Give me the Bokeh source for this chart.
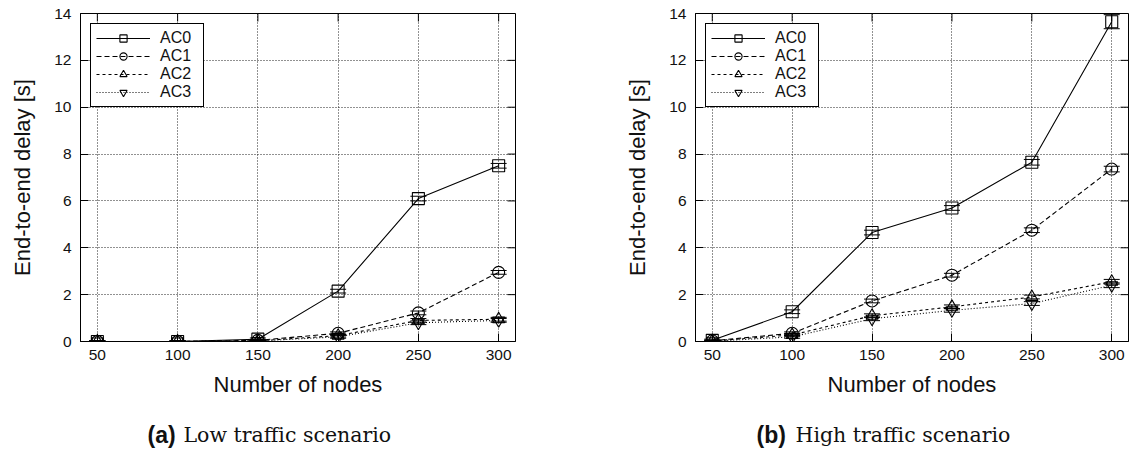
import math
from bokeh.plotting import figure
from bokeh.layouts import row, column
from bokeh.models import (ColumnDataSource, Whisker, TeeHead, FixedTicker, Range1d)
from bokeh.embed import file_html
from bokeh.resources import INLINE
from bokeh.core.properties import value

# ---------------- data ----------------
nodes = [50, 100, 150, 200, 250, 300]
series_names = ["AC0", "AC1", "AC2", "AC3"]

low_ac0 = [0.0, 0.0, 0.10, 2.15, 6.10, 7.50]
low_ac1 = [0.0, 0.0, 0.05, 0.35, 1.22, 2.95]
low_ac2 = [0.0, 0.0, 0.03, 0.25, 0.90, 0.95]
low_ac3 = [0.0, 0.0, 0.02, 0.20, 0.80, 0.90]
low_err_ac0 = [0.03, 0.03, 0.05, 0.08, 0.10, 0.10]
low_err_ac1 = [0.03, 0.03, 0.03, 0.06, 0.08, 0.08]
low_err_ac2 = [0.03, 0.03, 0.03, 0.06, 0.08, 0.08]
low_err_ac3 = [0.03, 0.03, 0.03, 0.06, 0.08, 0.08]

high_ac0 = [0.05, 1.27, 4.65, 5.70, 7.65, 13.65]
high_ac1 = [0.03, 0.35, 1.73, 2.83, 4.75, 7.36]
high_ac2 = [0.02, 0.28, 1.10, 1.48, 1.90, 2.55]
high_ac3 = [0.01, 0.20, 0.97, 1.33, 1.62, 2.40]
high_err_ac0 = [0.05, 0.08, 0.10, 0.10, 0.12, 0.30]
high_err_ac1 = [0.03, 0.06, 0.08, 0.08, 0.10, 0.12]
high_err_ac2 = [0.03, 0.06, 0.08, 0.08, 0.08, 0.10]
high_err_ac3 = [0.03, 0.06, 0.08, 0.08, 0.08, 0.10]

x_ticks = [50, 100, 150, 200, 250, 300]
y_ticks = [0, 2, 4, 6, 8, 10, 12, 14]

x_label = "Number of nodes"
y_label = "End-to-end delay [s]"
caption_a = ("(a)", "Low traffic scenario")
caption_b = ("(b)", "High traffic scenario")

# ---------------- styles ----------------
markers = ["square", "circle", "triangle", "inverted_triangle"]
dashes = ["solid", "5 3", "3 3", "1 2"]
SANS = "Liberation Sans"
SERIF = "DejaVu Serif"
X_LO, X_HI = 39.5, 310.5
Y_LO, Y_HI = 0, 14
PANEL_H = 400
CAP_H = 50


def make_panel(values, errors, width, min_left, min_right):
    p = figure(width=width, height=PANEL_H, output_backend="svg", toolbar_location=None,
               x_range=Range1d(X_LO, X_HI), y_range=Range1d(Y_LO, Y_HI),
               min_border_left=min_left, min_border_right=min_right,
               min_border_top=13, min_border_bottom=PANEL_H - 341,
               x_axis_label=x_label, y_axis_label=y_label)
    p.background_fill_color = "white"
    p.border_fill_color = "white"
    p.outline_line_color = "black"
    p.outline_line_width = 1
    p.outline_line_alpha = 1

    for ax in (p.xaxis[0], p.yaxis[0]):
        ax.major_tick_in = 8
        ax.major_tick_out = 0
        ax.minor_tick_in = 0
        ax.minor_tick_out = 0
        ax.axis_line_color = "black"
        ax.major_tick_line_color = "black"
        ax.major_label_text_font = SANS
        ax.major_label_text_font_size = "15.5px"
        ax.major_label_text_color = "#111111"
        ax.axis_label_text_font = SANS
        ax.axis_label_text_font_size = "22px"
        ax.axis_label_text_font_style = "normal"
        ax.axis_label_text_color = "#111111"
    p.xaxis[0].ticker = FixedTicker(ticks=x_ticks)
    p.yaxis[0].ticker = FixedTicker(ticks=y_ticks)
    p.xaxis[0].major_label_standoff = 8
    p.xaxis[0].axis_label_standoff = 9
    p.yaxis[0].major_label_standoff = 9
    p.yaxis[0].axis_label_standoff = 16

    # mirrored inward ticks on the top and right borders
    p.ray(x=x_ticks, y=[Y_HI] * len(x_ticks), length=8, length_units="screen",
          angle=-math.pi / 2, line_color="black", line_width=1)
    p.ray(x=[X_HI] * len(y_ticks), y=y_ticks, length=8, length_units="screen",
          angle=math.pi, line_color="black", line_width=1)

    p.xgrid.ticker = FixedTicker(ticks=x_ticks)
    p.ygrid.ticker = FixedTicker(ticks=y_ticks)
    for g in (p.xgrid, p.ygrid):
        g.grid_line_color = "#222222"
        g.grid_line_dash = "1 2"
        g.grid_line_width = 1

    for name, ys, errs, mk, dash in zip(series_names, values, errors, markers, dashes):
        src = ColumnDataSource(dict(
            x=nodes, y=ys,
            lower=[a - b for a, b in zip(ys, errs)],
            upper=[a + b for a, b in zip(ys, errs)]))
        p.line("x", "y", source=src, line_color="black", line_width=1.1,
               line_dash=dash, legend_label=name)
        p.scatter("x", "y", source=src, marker=mk, size=12, fill_color=None,
                  line_color="black", line_width=1.1, legend_label=name)
        w = Whisker(source=src, base="x", lower="lower", upper="upper",
                    line_color="black", line_width=1,
                    upper_head=TeeHead(size=16, line_color="black", line_width=1),
                    lower_head=TeeHead(size=16, line_color="black", line_width=1))
        p.add_layout(w)

    lg = p.legend[0]
    lg.location = "top_left"
    lg.margin = 10
    lg.border_line_color = "black"
    lg.border_line_width = 1
    lg.border_line_alpha = 1
    lg.background_fill_color = "white"
    lg.background_fill_alpha = 1
    lg.label_text_font = SANS
    lg.label_text_font_size = "16px"
    lg.label_text_color = "#111111"
    lg.glyph_width = 54
    lg.glyph_height = 18
    lg.label_standoff = 10
    lg.label_height = 16
    lg.label_width = 38
    lg.spacing = 0
    lg.padding = 5
    return p


p1 = make_panel([low_ac0, low_ac1, low_ac2, low_ac3],
                [low_err_ac0, low_err_ac1, low_err_ac2, low_err_ac3],
                615, 80, 100)
p2 = make_panel([high_ac0, high_ac1, high_ac2, high_ac3],
                [high_err_ac0, high_err_ac1, high_err_ac2, high_err_ac3],
                516, 80, 3)

# caption strip
cap = figure(width=1131, height=CAP_H, output_backend="svg", toolbar_location=None,
             x_range=Range1d(0, 1131), y_range=Range1d(0, CAP_H),
             x_axis_type=None, y_axis_type=None, min_border=0)
cap.grid.visible = False
cap.outline_line_color = None
cap.background_fill_color = "white"
cap.border_fill_color = "white"
cap_src_bold = ColumnDataSource(dict(x=[147, 756], y=[16, 16], t=[caption_a[0], caption_b[0]]))
cap_src_text = ColumnDataSource(dict(x=[183, 795], y=[16, 16], t=[caption_a[1], caption_b[1]]))
cap.text("x", "y", text="t", source=cap_src_bold, text_font=value(SANS),
         text_font_style="bold", text_font_size="23px", text_baseline="alphabetic",
         text_align="left", text_color="#111111")
cap.text("x", "y", text="t", source=cap_src_text, text_font=value(SERIF),
         text_font_size="20.5px", text_baseline="alphabetic",
         text_align="left", text_color="#111111")

layout = column(row(p1, p2), cap)
open("out.html", "w").write(file_html(layout, INLINE))
